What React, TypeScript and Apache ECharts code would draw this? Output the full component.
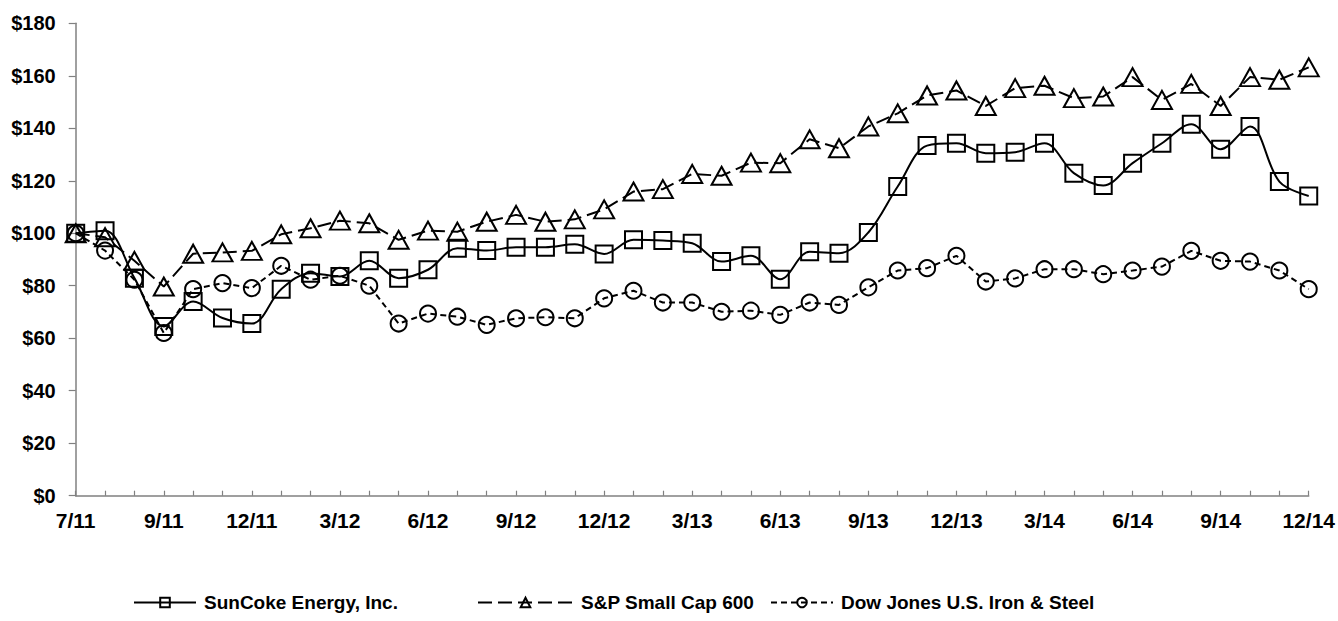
import React, { useEffect, useRef } from "react";
import * as echarts from "echarts";

const categories = [
  "7/11", "7/11", "8/11", "9/11", "10/11", "11/11", "12/11",
  "1/12", "2/12", "3/12", "4/12", "5/12", "6/12", "7/12", "8/12", "9/12", "10/12", "11/12", "12/12",
  "1/13", "2/13", "3/13", "4/13", "5/13", "6/13", "7/13", "8/13", "9/13", "10/13", "11/13", "12/13",
  "1/14", "2/14", "3/14", "4/14", "5/14", "6/14", "7/14", "8/14", "9/14", "10/14", "11/14", "12/14",
];

const suncoke = [
  100, 101, 82.9, 64.5, 74.0, 67.7, 65.6, 78.7, 84.8, 83.5, 89.5, 82.9, 86.1,
  94.3, 93.4, 94.7, 94.7, 95.8, 92.1, 97.5, 97.2, 96.2, 89.2, 91.4, 82.5, 93.0, 92.4, 100.3,
  117.8, 133.4, 134.3, 130.5, 130.9, 134.3, 122.9, 118.2, 126.7, 134.3, 141.5, 132.0, 140.7, 119.7, 114.2,
];

const sp600 = [
  100, 98.5, 89.5, 79.7, 92.2, 92.7, 93.3, 99.6, 101.9, 104.8, 103.8, 97.5, 101,
  100.6, 104.4, 107.0, 104.4, 105.3, 109.1, 115.9, 116.8, 122.6, 121.9, 126.9, 126.7, 135.8, 132.4, 140.7,
  145.7, 152.5, 154.4, 148.5, 155.3, 156.2, 151.5, 152.1, 159.5, 150.8, 156.9, 148.5, 159.5, 158.5, 163.2,
];

const dowSteel = [
  100, 93.4, 82.3, 62.0, 78.7, 81.0, 79.1, 87.6, 82.3, 83.8, 80.0, 65.6, 69.4,
  68.2, 65.1, 67.6, 68.0, 67.6, 75.2, 78.1, 73.6, 73.6, 70.1, 70.5, 68.9, 73.6, 72.7, 79.4,
  85.8, 86.7, 91.4, 81.6, 82.8, 86.3, 86.3, 84.4, 85.8, 87.3, 93.3, 89.5, 89.2, 85.8, 78.7,
];

const seriesNames = ["SunCoke Energy, Inc.", "S&P Small Cap 600", "Dow Jones U.S. Iron & Steel"];

const FONT = "'Liberation Sans', Arial, sans-serif";

export default function App() {
  const ref = useRef<HTMLDivElement>(null);

  useEffect(() => {
    if (!ref.current) return;
    const chart = echarts.init(ref.current, null, { renderer: "svg" });
    const legendBase = {
      orient: "horizontal",
      top: 588,
      itemWidth: 62,
      itemHeight: 12,
      itemGap: 0,
      textStyle: { color: "#000", fontSize: 19, fontWeight: "bold", fontFamily: FONT, padding: [0, 0, 0, 3] },
      selectedMode: false,
    };
    chart.setOption({
      animation: false,
      backgroundColor: "#fff",
      legend: [
        { ...legendBase, left: 128, data: [seriesNames[0]] },
        { ...legendBase, left: 472, itemWidth: 95, data: [seriesNames[1]] },
        { ...legendBase, left: 765, data: [seriesNames[2]] },
      ],
      grid: { left: 75.7, right: 28, top: 23.3, bottom: 125.3, containLabel: false },
      xAxis: {
        type: "category",
        data: categories,
        boundaryGap: false,
        axisLine: { lineStyle: { color: "#808080", width: 1.5 } },
        axisTick: { show: true, inside: true, length: 5, interval: 0, lineStyle: { color: "#808080", width: 1.2 } },
        axisLabel: {
          interval: 2,
          margin: 14,
          color: "#000",
          fontSize: 21,
          fontWeight: "bold",
          fontFamily: FONT,
        },
        splitLine: { show: false },
      },
      yAxis: {
        type: "value",
        min: 0,
        max: 180,
        interval: 20,
        axisLine: { show: true, lineStyle: { color: "#808080", width: 1.5 } },
        axisTick: { show: true, inside: false, length: 7, lineStyle: { color: "#808080", width: 1.2 } },
        axisLabel: {
          margin: 20,
          color: "#000",
          fontSize: 20,
          fontWeight: "bold",
          fontFamily: FONT,
          formatter: (v: number) => "$" + v,
        },
        splitLine: { show: false },
      },
      series: [
        {
          name: seriesNames[0],
          type: "line",
          data: suncoke,
          smooth: 0.35,
          symbol: "rect",
          symbolSize: 17,
          lineStyle: { color: "#000", width: 2, type: "solid" },
          itemStyle: { color: "transparent", borderColor: "#000", borderWidth: 2 },
          z: 3,
        },
        {
          name: seriesNames[1],
          type: "line",
          data: sp600,
          symbol: "triangle",
          symbolSize: [20, 18],
          lineStyle: { color: "#000", width: 2, type: [14, 6] },
          itemStyle: { color: "transparent", borderColor: "#000", borderWidth: 2 },
          z: 2,
        },
        {
          name: seriesNames[2],
          type: "line",
          data: dowSteel,
          symbol: "circle",
          symbolSize: 16,
          lineStyle: { color: "#000", width: 2, type: [6, 4] },
          itemStyle: { color: "transparent", borderColor: "#000", borderWidth: 2 },
          z: 1,
        },
      ],
    });
    return () => chart.dispose();
  }, []);

  return (
    <div
      ref={ref}
      style={{ position: "absolute", left: 0, top: 0, width: 1338, height: 621, background: "#fff" }}
    />
  );
}
